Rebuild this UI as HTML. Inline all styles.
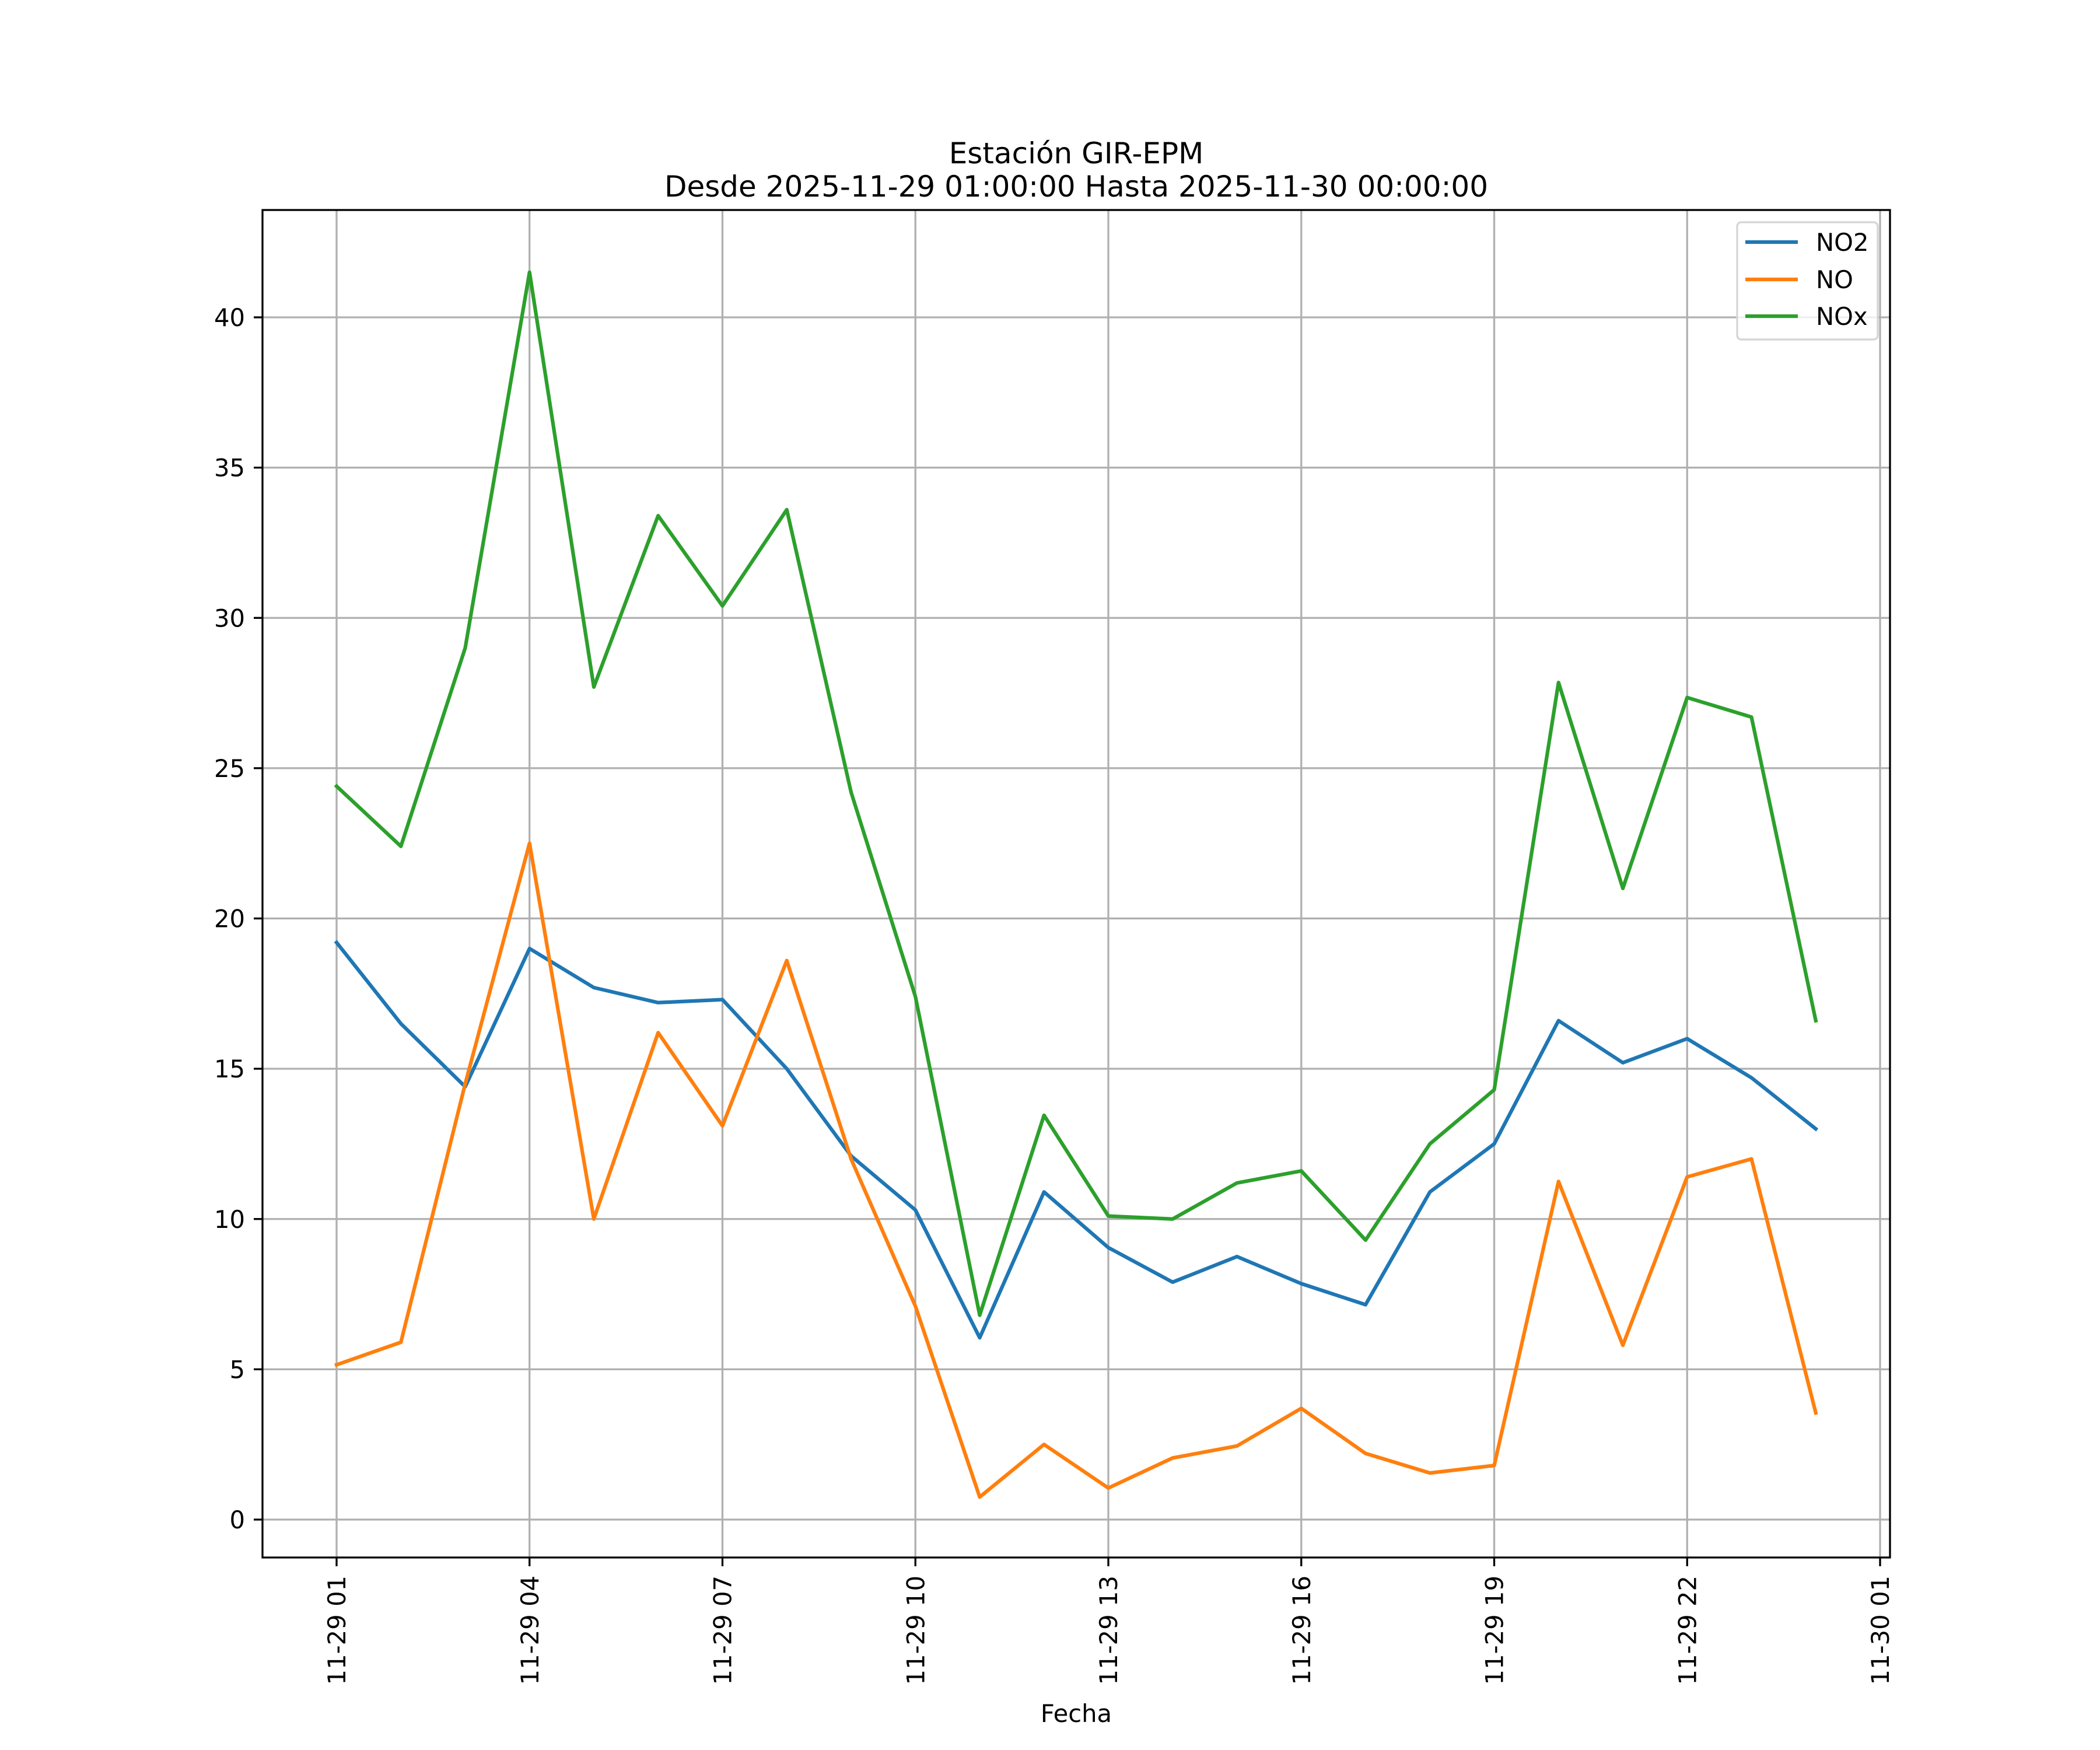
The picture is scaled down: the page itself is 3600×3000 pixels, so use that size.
<!DOCTYPE html>
<html><head><meta charset="utf-8">
<style>
html,body{margin:0;padding:0;background:#fff;}
svg{display:block;font-family:"DejaVu Sans","Liberation Sans",sans-serif;}
</style></head>
<body>
<svg id="chart" width="3600" height="3000" viewBox="0 0 3600 3000" xmlns="http://www.w3.org/2000/svg">
<rect width="3600" height="3000" fill="#fff"/>
<text x="1845" y="280" font-size="50" text-anchor="middle">Estación GIR-EPM</text>
<text x="1845" y="337" font-size="50" text-anchor="middle">Desde 2025-11-29 01:00:00 Hasta 2025-11-30 00:00:00</text>
<g id="grid"></g>
<g id="series"></g>
<rect x="450" y="360" width="2790" height="2310" fill="none" stroke="#000" stroke-width="3.3"/>
<g id="axes"></g>
<text x="1845" y="2952" font-size="41.7" text-anchor="middle">Fecha</text>
<g>
<rect x="2978" y="381" width="241" height="201" fill="#fff" fill-opacity="0.8" stroke="#d5d5d5" stroke-width="3.3" rx="7"/>
<line x1="2992" y1="415" x2="3082" y2="415" stroke="#1f77b4" stroke-width="6.25"/>
<text x="3113" y="430" font-size="41.7">NO2</text>
<line x1="2992" y1="479" x2="3082" y2="479" stroke="#ff7f0e" stroke-width="6.25"/>
<text x="3113" y="494" font-size="41.7">NO</text>
<line x1="2992" y1="542" x2="3082" y2="542" stroke="#2ca02c" stroke-width="6.25"/>
<text x="3113" y="557" font-size="41.7">NOx</text>
</g>
</svg>
<script>
const hours = [1,2,3,4,5,6,7,8,9,10,11,12,13,14,15,16,17,18,19,20,21,22,23,24];
const no2 = [19.2,16.5,14.4,19.0,17.7,17.2,17.3,15.0,12.1,10.3,6.05,10.9,9.05,7.9,8.75,7.85,7.15,10.9,12.5,16.6,15.2,16.0,14.7,13.0];
const no = [5.15,5.9,14.5,22.5,10.0,16.2,13.1,18.6,12.0,7.1,0.75,2.5,1.05,2.05,2.45,3.7,2.2,1.55,1.8,11.25,5.8,11.4,12.0,3.55];
const nox = [24.4,22.4,29.0,41.5,27.7,33.4,30.4,33.6,24.2,17.4,6.8,13.45,10.1,10.0,11.2,11.6,9.3,12.5,14.3,27.85,21.0,27.35,26.7,16.6];
const yTicks = [0,5,10,15,20,25,30,35,40];
const xTickHours = [1,4,7,10,13,16,19,22,25];
const xTickLabels = ["11-29 01","11-29 04","11-29 07","11-29 10","11-29 13","11-29 16","11-29 19","11-29 22","11-30 01"];

const NS = "http://www.w3.org/2000/svg";
const xS = h => 577 + (h - 1) * (3223 - 577) / 24;
const yS = v => 2605 - v * (2605 - 544) / 40;
function mk(tag, attrs, parent){const e=document.createElementNS(NS,tag);for(const k in attrs)e.setAttribute(k,attrs[k]);parent.appendChild(e);return e;}
const grid=document.getElementById('grid'), axes=document.getElementById('axes'), ser=document.getElementById('series');

yTicks.forEach(v=>{
  const y=yS(v);
  const g=mk('line',{x1:450,x2:3240,y1:y,y2:y,stroke:'#b0b0b0','stroke-width':3.3},grid);
  
  
  mk('line',{x1:435,x2:450,y1:y,y2:y,stroke:'#000','stroke-width':3.3},axes);
  const t=mk('text',{x:420,y:y+15,'font-size':41.7,'text-anchor':'end'},axes);
  t.textContent=v;
  
  
});
xTickHours.forEach((h,i)=>{
  const x=xS(h);
  const g=mk('line',{x1:x,x2:x,y1:360,y2:2670,stroke:'#b0b0b0','stroke-width':3.3},grid);
  
  
  mk('line',{x1:x,x2:x,y1:2670,y2:2685,stroke:'#000','stroke-width':3.3},axes);
  const t=mk('text',{x:0,y:0,'font-size':41.7,'text-anchor':'end',transform:`translate(${x+15},2701) rotate(-90)`},axes);
  t.textContent=xTickLabels[i];
  
  
});
[[no2,'#1f77b4','line-no2'],[no,'#ff7f0e','line-no'],[nox,'#2ca02c','line-nox']].forEach(([d,c,n])=>{
  const p=mk('polyline',{points:d.map((v,i)=>xS(hours[i])+','+yS(v)).join(' '),fill:'none',stroke:c,'stroke-width':6.25,'stroke-linejoin':'round','stroke-linecap':'square'},ser);
  
  
});
</script>
</body></html>
